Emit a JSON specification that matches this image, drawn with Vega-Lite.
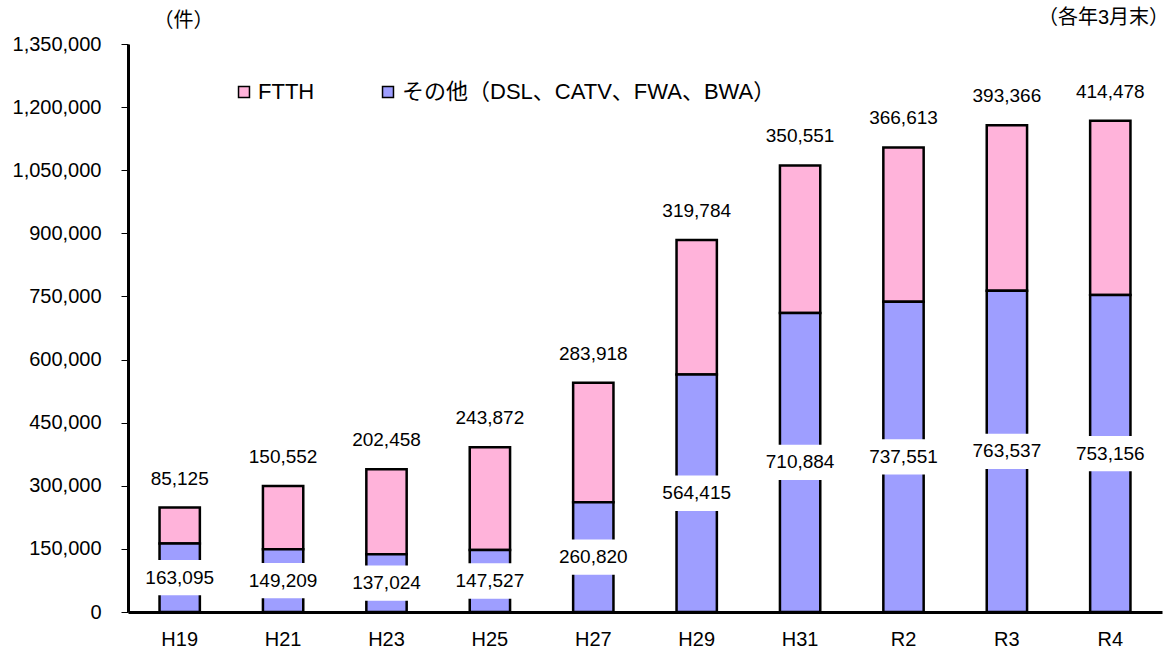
{
  "$schema": "https://vega.github.io/schema/vega-lite/v6.json",
  "width": 1034,
  "height": 568,
  "autosize": {"type": "none"},
  "padding": {"left": 128, "top": 44, "right": 11, "bottom": 42},
  "config": {
    "view": {"stroke": null},
    "font": "Liberation Sans, Noto Sans CJK JP, sans-serif",
    "axis": {"labelFont": "Liberation Sans, Noto Sans CJK JP, sans-serif", "titleFont": "Liberation Sans, Noto Sans CJK JP, sans-serif"},
    "axisY": {
      "grid": false,
      "labelExpr": "format(datum.value, ',')",
      "domainColor": "black",
      "domainWidth": 3,
      "tickColor": "black",
      "tickWidth": 1,
      "tickSize": 7,
      "labelFontSize": 20,
      "labelColor": "black",
      "labelPadding": 20,
      "titleAngle": 0,
      "titleX": 55,
      "titleY": -24,
      "titleAlign": "center",
      "titleBaseline": "middle",
      "titleFontSize": 20,
      "titleFontWeight": "normal",
      "titleColor": "black"
    }
  },
  "data": {
    "values": [
      {"year": "H19", "other": 163095, "ftth": 85125},
      {"year": "H21", "other": 149209, "ftth": 150552},
      {"year": "H23", "other": 137024, "ftth": 202458},
      {"year": "H25", "other": 147527, "ftth": 243872},
      {"year": "H27", "other": 260820, "ftth": 283918},
      {"year": "H29", "other": 564415, "ftth": 319784},
      {"year": "H31", "other": 710884, "ftth": 350551},
      {"year": "R2", "other": 737551, "ftth": 366613},
      {"year": "R3", "other": 763537, "ftth": 393366},
      {"year": "R4", "other": 753156, "ftth": 414478}
    ]
  },
  "transform": [
    {"calculate": "datum.other + datum.ftth", "as": "total"},
    {"calculate": "datum.other / 2", "as": "mid"},
    {"calculate": "datum.other / 2 - 42000", "as": "lo"},
    {"calculate": "datum.other / 2 + 42000", "as": "hi"}
  ],
  "encoding": {
    "x": {
      "field": "year",
      "type": "nominal",
      "sort": null,
      "scale": {"paddingInner": 0.61, "paddingOuter": 0.305},
      "axis": {
        "labelAngle": 0,
        "labelFontSize": 20,
        "labelColor": "black",
        "labelPadding": 17,
        "ticks": false,
        "domainColor": "black",
        "domainWidth": 3,
        "title": "（各年3月末）",
        "titleFontSize": 20,
        "titleFontWeight": "normal",
        "titleColor": "black",
        "titleX": 975,
        "titleY": -595,
        "titleAlign": "center",
        "titleBaseline": "middle"
      }
    }
  },
  "layer": [
    {
      "transform": [{"fold": ["ftth", "other"], "as": ["key", "value"]}],
      "mark": {"type": "bar", "stroke": "black", "strokeWidth": 2.5},
      "encoding": {
        "y": {
          "field": "value",
          "type": "quantitative",
          "stack": "zero",
          "scale": {"domain": [0, 1350000], "nice": false},
          "axis": {"title": "（件）", "values": [0, 150000, 300000, 450000, 600000, 750000, 900000, 1050000, 1200000, 1350000]}
        },
        "color": {
          "field": "key",
          "type": "nominal",
          "scale": {"domain": ["ftth", "other"], "range": ["#FFB3DA", "#9E9EFF"]},
          "legend": {
            "orient": "none",
            "legendX": 105,
            "legendY": 37,
            "direction": "horizontal",
            "title": null,
            "symbolType": "square",
            "symbolSize": 120,
            "symbolStrokeColor": "black",
            "symbolStrokeWidth": 1.5,
            "symbolOpacity": 1,
            "labelFontSize": 22,
            "labelColor": "black",
            "labelOffset": 3,
            "labelLimit": 500,
            "columnPadding": 62,
            "labelExpr": "datum.label == 'ftth' ? 'FTTH' : 'その他（DSL、CATV、FWA、BWA）'"
          }
        },
        "order": {"field": "key", "sort": "descending"}
      }
    },
    {
      "mark": {"type": "bar", "width": 82, "color": "white"},
      "encoding": {
        "y": {
          "field": "lo",
          "type": "quantitative",
          "scale": {"domain": [0, 1350000], "nice": false},
          "axis": {"title": "（件）", "values": [0, 150000, 300000, 450000, 600000, 750000, 900000, 1050000, 1200000, 1350000]}
        },
        "y2": {"field": "hi"}
      }
    },
    {
      "mark": {"type": "text", "fontSize": 19, "color": "black", "baseline": "middle"},
      "encoding": {
        "y": {
          "field": "mid",
          "type": "quantitative",
          "scale": {"domain": [0, 1350000], "nice": false},
          "axis": {"title": "（件）", "values": [0, 150000, 300000, 450000, 600000, 750000, 900000, 1050000, 1200000, 1350000]}
        },
        "text": {"field": "other", "type": "quantitative", "format": ","}
      }
    },
    {
      "mark": {"type": "text", "fontSize": 19, "color": "black", "baseline": "middle", "dy": -29},
      "encoding": {
        "y": {
          "field": "total",
          "type": "quantitative",
          "scale": {"domain": [0, 1350000], "nice": false},
          "axis": {"title": "（件）", "values": [0, 150000, 300000, 450000, 600000, 750000, 900000, 1050000, 1200000, 1350000]}
        },
        "text": {"field": "ftth", "type": "quantitative", "format": ","}
      }
    }
  ]
}
